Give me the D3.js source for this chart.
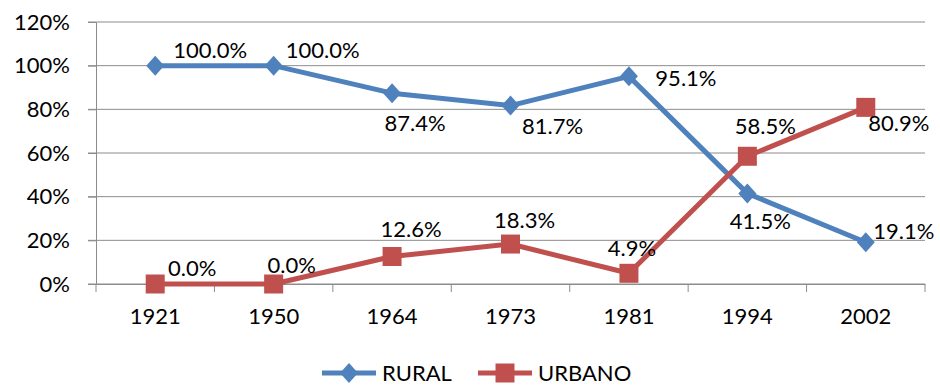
<!DOCTYPE html>
<html>
<head>
<meta charset="utf-8">
<script src="https://cdn.jsdelivr.net/npm/d3@7"></script>
<style>
  html, body { margin: 0; padding: 0; background: #fff; }
  svg { display: block; font-family: Lato, "Open Sans", sans-serif; }
</style>
</head>
<body>
<svg id="chart" width="940" height="385"></svg>
<script>
// Population share by area, census years
const years = ["1921", "1950", "1964", "1973", "1981", "1994", "2002"];
const rural = [100.0, 100.0, 87.4, 81.7, 95.1, 41.5, 19.1];
const urbano = [0.0, 0.0, 12.6, 18.3, 4.9, 58.5, 80.9];
const yTicks = [0, 20, 40, 60, 80, 100, 120];

// Label offsets (label centre relative to its point), in pixels
const ruralLabelOffset = [[55, -16], [49, -16], [23, 30], [42, 20], [57, 2], [13, 28], [38, -11]];
const urbanoLabelOffset = [[37, -16], [18, -19], [19, -27], [14, -24], [3, -25], [18, -30], [33, 16]];

const svg = d3.select("#chart");
const plot = { left: 96, right: 925, top: 22, bottom: 284 };
const fontSize = 22;

const x = d3.scaleBand().domain(years).range([plot.left, plot.right]);
const y = d3.scaleLinear().domain([0, 120]).range([plot.bottom, plot.top]);

const gridColor = "#8c8c8c";

// horizontal grid lines
svg.append("g").selectAll("line").data(yTicks).join("line")
  .attr("x1", plot.left - 8).attr("x2", plot.right)
  .attr("y1", d => y(d)).attr("y2", d => y(d))
  .attr("stroke", gridColor).attr("stroke-width", 1);

// y axis
const yAxis = svg.append("g").attr("transform", `translate(${plot.left},0)`)
  .call(d3.axisLeft(y).tickValues(yTicks).tickFormat(d => d + "%").tickSize(8).tickPadding(18));
yAxis.select(".domain").attr("stroke", gridColor);
yAxis.selectAll(".tick line").attr("stroke", gridColor);
yAxis.selectAll("text").attr("font-size", fontSize).attr("fill", "#000").attr("font-family", "Lato, sans-serif");

// x axis with ticks at category boundaries
const xAxis = svg.append("g").attr("transform", `translate(0,${plot.bottom})`)
  .call(d3.axisBottom(x).tickSize(0).tickPadding(24));
xAxis.select(".domain").attr("stroke", gridColor);
xAxis.selectAll("text").attr("font-size", fontSize).attr("fill", "#000").attr("font-family", "Lato, sans-serif");
const boundaries = years.map(d => x(d)).concat([x(years[years.length - 1]) + x.bandwidth()]);
xAxis.selectAll(".bound").data(boundaries).join("line").attr("class", "bound")
  .attr("x1", d => d).attr("x2", d => d).attr("y1", 0).attr("y2", 8)
  .attr("stroke", gridColor);

const cx = d => x(d) + x.bandwidth() / 2;
const blue = "#4f81bd", red = "#c0504d";

const line = d3.line().x((d, i) => cx(years[i])).y(d => y(d));

function drawSeries(values, color, marker, offsets) {
  const g = svg.append("g");
  g.append("path").datum(values).attr("d", line)
    .attr("fill", "none").attr("stroke", color).attr("stroke-width", 5)
    .attr("stroke-linejoin", "round");
  g.selectAll("path.m").data(values).join("path").attr("class", "m")
    .attr("d", marker)
    .attr("transform", (d, i) => `translate(${cx(years[i])},${y(d)})`)
    .attr("fill", color);
  g.selectAll("text").data(values).join("text")
    .attr("x", (d, i) => cx(years[i]) + offsets[i][0])
    .attr("y", (d, i) => y(d) + offsets[i][1] + 8)
    .attr("text-anchor", "middle")
    .attr("font-size", fontSize)
    .attr("fill", "#000")
    .text(d => d.toFixed(1) + "%");
}

const diamond = "M0,-10L9,0L0,10L-9,0Z";
const square = "M-9.5,-9.5H9.5V9.5H-9.5Z";

drawSeries(rural, blue, diamond, ruralLabelOffset);
drawSeries(urbano, red, square, urbanoLabelOffset);

// legend
const legend = svg.append("g").attr("transform", "translate(0,373)");
const items = [
  { name: "RURAL", color: blue, marker: diamond, x0: 322 },
  { name: "URBANO", color: red, marker: square, x0: 478 }
];
items.forEach(it => {
  legend.append("line").attr("x1", it.x0).attr("x2", it.x0 + 54).attr("y1", 0).attr("y2", 0)
    .attr("stroke", it.color).attr("stroke-width", 5);
  legend.append("path").attr("d", it.marker)
    .attr("transform", `translate(${it.x0 + 27},0)`).attr("fill", it.color);
  legend.append("text").attr("x", it.x0 + 60).attr("y", 8)
    .attr("font-size", fontSize).attr("fill", "#000").text(it.name);
});
</script>
</body>
</html>
